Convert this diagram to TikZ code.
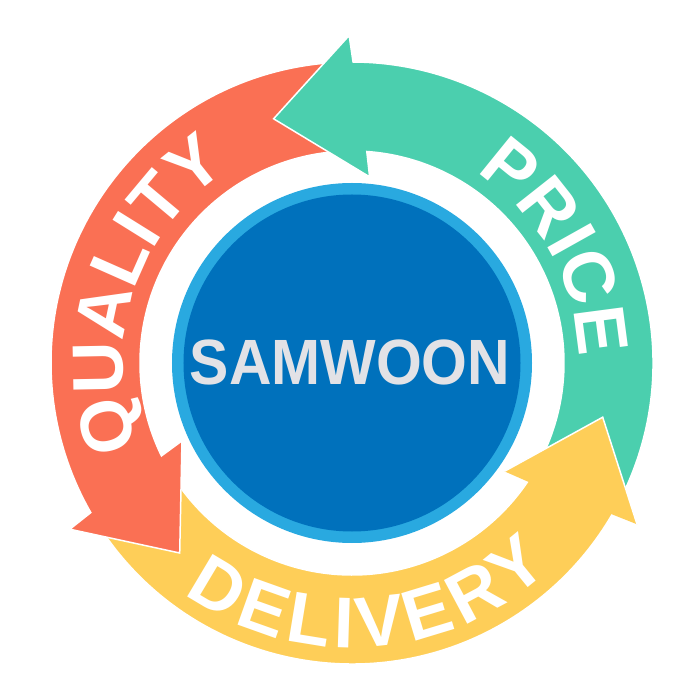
\documentclass[tikz,border=0pt]{standalone}
\usepackage{fontspec}
\newfontfamily\lsans{Liberation Sans}
\usetikzlibrary{decorations.text}
\definecolor{coral}{RGB}{250,112,84}
\definecolor{tealg}{RGB}{75,207,174}
\definecolor{gold}{RGB}{254,206,88}
\definecolor{dblue}{RGB}{0,113,188}
\definecolor{lblue}{RGB}{41,169,224}
\definecolor{silver}{RGB}{226,226,230}
% #1 tail angle, #2 head base angle, #3 colour
\newcommand\ringarrow[3]{%
  \filldraw[fill=#3, draw=white, line width=1.5pt, line join=miter]
    (#1:301pt) arc[start angle=#1, end angle=#2-0.7, radius=301pt]
    -- (#2:327.5pt) -- (#2+17.3:256.5pt) -- (#2-5.9:187pt) -- (#2-4.5:212pt)
    arc[start angle=#2-4.5, end angle=#1, radius=212pt] -- cycle;}
\tikzset{
  ringtext/.style={decorate, decoration={text along path, text align=fit to path,
     text color=white, text={|\lsans\bfseries\fontsize{72}{72}\selectfont|#1}}}
}
\begin{document}
\begin{tikzpicture}
\useasboundingbox (-352pt,-337pt) rectangle (348pt,363pt);
% arrows
\ringarrow{213.5}{330.5}{gold}
\ringarrow{93.5}{210.5}{coral}
\ringarrow{-26.5}{90.5}{tealg}
% yellow head over green tail
\fill[gold] (329.8:301pt) -- (330.5:327.5pt) -- (347.8:256.5pt) -- (324.6:187pt) -- (326:212pt) -- cycle;
\draw[white, line width=1.5pt, line join=miter] (330.5:327.5pt) -- (347.8:256.5pt) -- (324.6:187pt);
% centre disc
\fill[lblue] (0,0) circle[radius=180pt];
\fill[dblue] (0,0) circle[radius=168.5pt];
\node[text=silver, font=\lsans\bfseries\fontsize{64}{64}\selectfont, inner sep=0pt] (title) at (-2pt,1pt) {\scalebox{0.92}[1]{SAMWOON}};
% curved labels
\path[ringtext=QUALITY] (201.6:229pt) arc[start angle=201.6, end angle=122.6, radius=229pt];
\path[ringtext=PRICE] (57:227pt) arc[start angle=57, end angle=3, radius=227pt];
\path[ringtext=DELIVERY] (234:285pt) arc[start angle=234, end angle=314, radius=285pt];
\end{tikzpicture}
\end{document}
